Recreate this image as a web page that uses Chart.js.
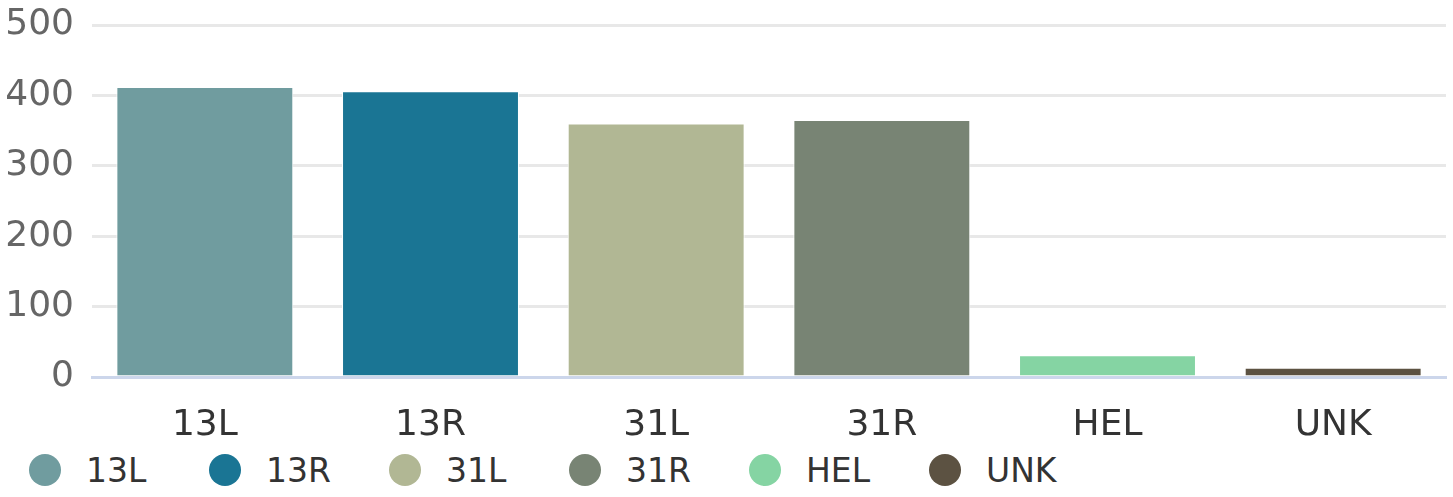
<!DOCTYPE html>
<html>
<head>
<meta charset="utf-8">
<script src="https://cdn.jsdelivr.net/npm/chart.js@4/dist/chart.umd.min.js"></script>
<style>
  html, body { margin: 0; padding: 0; background: #fff; }
  #wrap { position: relative; width: 1453px; height: 497px; }
  #runwayChart { position: absolute; left: 0; top: 0; }
  #legend { position: absolute; left: 29px; top: 448px; height: 44px; display: flex; align-items: center;
            font-family: "DejaVu Sans", sans-serif; font-size: 33px; color: #333; }
  .item { width: 180px; display: flex; align-items: center; }
  .dot { width: 32px; height: 32px; border-radius: 50%; margin-right: 25px; }
</style>
</head>
<body>
<div id="wrap">
  <canvas id="runwayChart" width="1453" height="447"></canvas>
  <div id="legend"></div>
</div>
<script>
// runway counts
const runways = ['13L', '13R', '31L', '31R', 'HEL', 'UNK'];
const counts = [412, 406, 360, 365, 31, 13];
const colors = ['#709c9f', '#1a7594', '#b1b794', '#788474', '#85d4a3', '#5c5242'];
const yTicks = [0, 100, 200, 300, 400, 500];

const ctx = document.getElementById('runwayChart').getContext('2d');
new Chart(ctx, {
    type: 'bar',
    data: {
        labels: runways,
        datasets: [{
            data: counts,
            backgroundColor: colors,
            borderColor: '#ffffff',
            borderWidth: 1,
            categoryPercentage: 1,
            barPercentage: 0.784
        }]
    },
    options: {
        responsive: false,
        devicePixelRatio: 1,
        animation: false,
        layout: { padding: { left: 5, right: 7, top: 25, bottom: 0 } },
        plugins: {
            legend: { display: false },
            tooltip: { enabled: false }
        },
        scales: {
            x: {
                afterFit: axis => { axis.height = 70; },
                grid: { display: false },
                border: { color: '#ccd6eb', width: 3 },
                ticks: {
                    color: '#333',
                    padding: 19,
                    font: { family: 'DejaVu Sans', size: 36 }
                }
            },
            y: {
                min: yTicks[0],
                max: yTicks[yTicks.length - 1],
                afterBuildTicks: axis => { axis.ticks = yTicks.map(v => ({ value: v })); },
                afterFit: axis => {
                    axis.width = 87;
                    axis.paddingTop = 0;
                    axis.paddingBottom = 0;
                },
                grid: { color: '#e8e8e8', lineWidth: 3, drawTicks: false },
                border: { display: false },
                ticks: {
                    color: '#666',
                    padding: 18,
                    font: { family: 'DejaVu Sans', size: 36 }
                }
            }
        }
    }
});

// legend below the chart
const legend = document.getElementById('legend');
runways.forEach((name, i) => {
    const item = document.createElement('div');
    item.className = 'item';
    const dot = document.createElement('span');
    dot.className = 'dot';
    dot.style.background = colors[i];
    const label = document.createElement('span');
    label.textContent = name;
    item.appendChild(dot);
    item.appendChild(label);
    legend.appendChild(item);
});
</script>
</body>
</html>
